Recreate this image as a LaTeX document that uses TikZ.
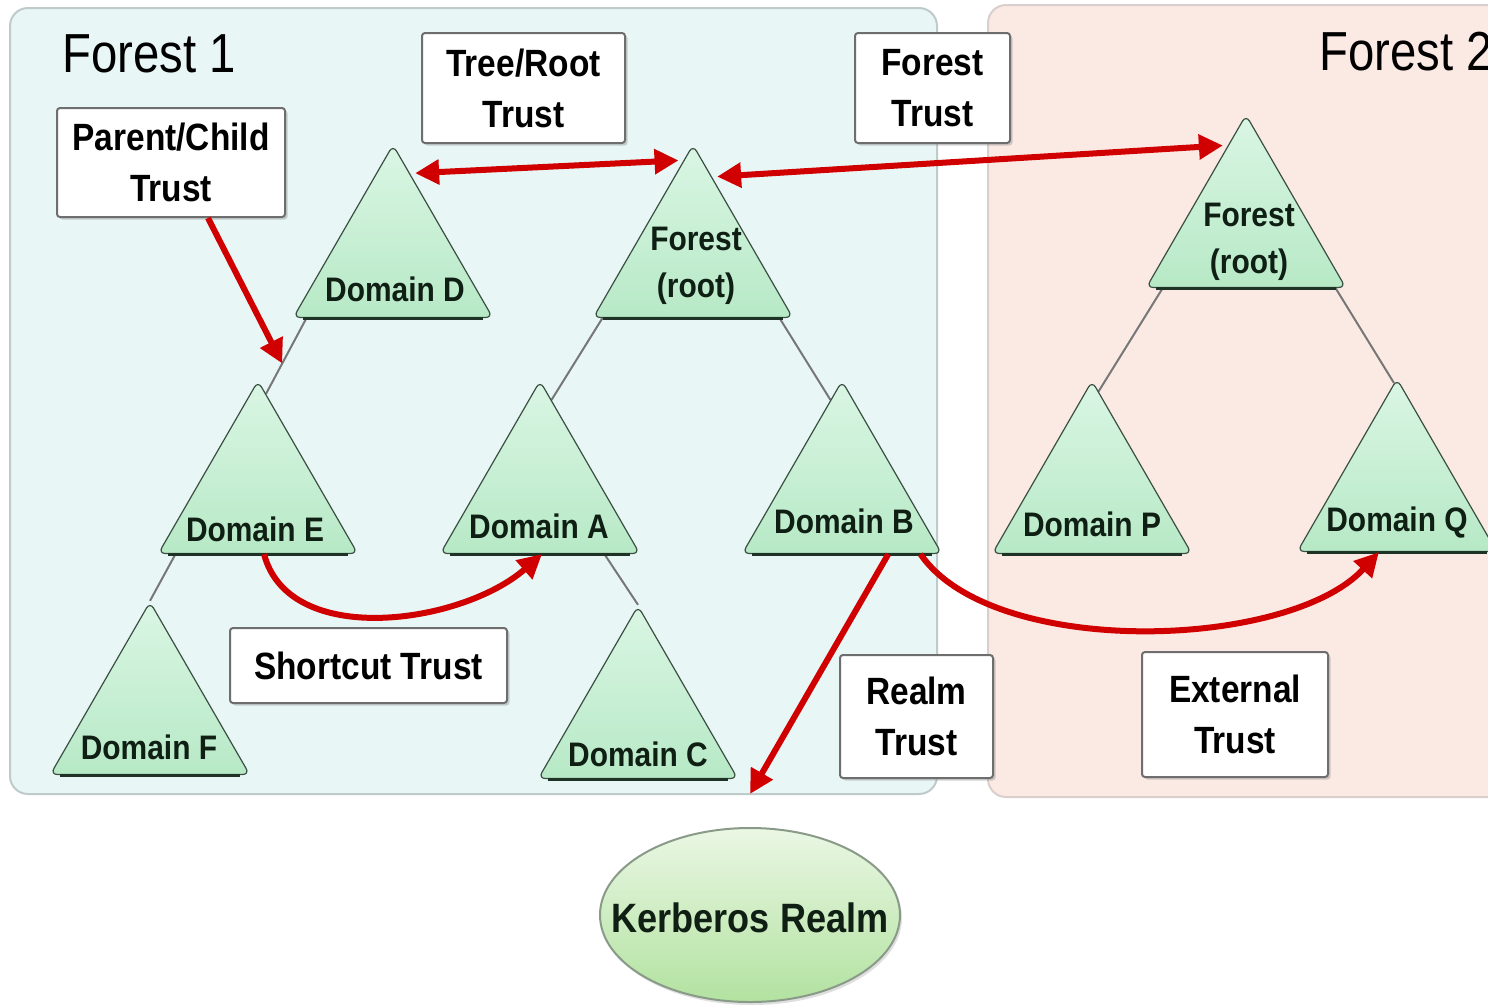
\documentclass[tikz,border=0pt]{standalone}
\usepackage{fontspec}
\setmainfont{Liberation Sans}[FakeStretch=0.88]
\newfontfamily\headfont{Liberation Sans}[FakeStretch=0.86]
\usetikzlibrary{shapes.geometric,arrows.meta,calc,shadows}
\pgfdeclarelayer{panel}
\pgfdeclarelayer{link}
\pgfsetlayers{panel,link,main}

\definecolor{paneBlue}{HTML}{E8F6F6}
\definecolor{paneBlueEdge}{HTML}{BFCBCB}
\definecolor{panePink}{HTML}{FBE9E4}
\definecolor{panePinkEdge}{HTML}{D9CFCC}
\definecolor{triTop}{HTML}{DAF6E4}
\definecolor{triBot}{HTML}{B7E9C6}
\definecolor{triEdge}{HTML}{3A4F42}
\definecolor{triBase}{HTML}{1E3326}
\definecolor{triText}{HTML}{0F1F14}
\definecolor{linkGray}{HTML}{777777}
\definecolor{trustRed}{HTML}{D10000}
\definecolor{boxEdge}{HTML}{6E6E6E}
\definecolor{realmTop}{HTML}{EAF7E4}
\definecolor{realmBot}{HTML}{B2E2A0}
\definecolor{realmEdge}{HTML}{8A9A88}

\newcommand\boxfont{\fontsize{38}{51}\selectfont\bfseries}
\newcommand\domfont{\fontsize{34}{47}\selectfont\bfseries}

\begin{document}
\begin{tikzpicture}[x=1pt,y=-1pt,
  domtri/.style={regular polygon, regular polygon sides=3, minimum size=230pt,
    inner sep=0pt, rounded corners=7pt, draw=triEdge, line width=1.2pt,
    top color=triTop, bottom color=triBot},
  domlabel/.style={font=\domfont, text=triText, inner sep=0pt, align=center},
  trustbox/.style={draw=boxEdge, line width=2pt, fill=white, rounded corners=3pt,
    align=center, font=\boxfont, inner sep=0pt,
    drop shadow={shadow xshift=2.5pt, shadow yshift=-2.5pt, opacity=0.35}},
  treelink/.style={draw=linkGray, line width=2pt},
  trust/.style={draw=trustRed, line width=6pt, -{Triangle[length=24pt,width=24pt]}},
  trustboth/.style={draw=trustRed, line width=6pt, shorten <=5pt, shorten >=5pt,
    {Triangle[length=24pt,width=24pt]}-{Triangle[length=24pt,width=24pt]}},
  title/.style={font=\headfont\fontsize{55}{60}\selectfont, inner sep=0pt, anchor=base west},
]
\useasboundingbox (0,0) rectangle (1488,1005);

% the two forest panels
\begin{pgfonlayer}{panel}
  \fill[white] (0,0) rectangle (1488,1005);
  \draw[fill=paneBlue, draw=paneBlueEdge, line width=2pt, rounded corners=18pt]
    (10,8) rectangle (937,794);
  \draw[fill=panePink, draw=panePinkEdge, line width=2pt, rounded corners=18pt]
    (988,5) rectangle (1540,797);
\end{pgfonlayer}

\node[title] (forest1) at (62,72) {Forest 1};
\node[title] (forest2) at (1319,70) {Forest 2};

% domain trees
\node[domtri] (D)  at (393,260)  {};
\node[domtri] (R1) at (693,260)  {};
\node[domtri] (E)  at (258,496)  {};
\node[domtri] (A)  at (540,496)  {};
\node[domtri] (B)  at (842,496)  {};
\node[domtri] (F)  at (150,717)  {};
\node[domtri] (C)  at (638,721)  {};
\node[domtri] (R2) at (1246,230) {};
\node[domtri] (P)  at (1092,496) {};
\node[domtri] (Q)  at (1397,494) {};

\foreach \t in {D,R1,E,A,B,F,C,R2,P,Q}
  \draw[triBase, line width=3pt] ($(\t.corner 2)+(11,0)$) -- ($(\t.corner 3)+(-11,0)$);

\node[domlabel] at ([xshift=2pt,yshift=-29pt]D.center)  {Domain D};
\node[domlabel] at ([xshift=3pt,yshift=-6pt]R1.center)  {Forest\\(root)};
\node[domlabel] at ([xshift=-3pt,yshift=-33pt]E.center) {Domain E};
\node[domlabel] at ([xshift=-1pt,yshift=-30pt]A.center) {Domain A};
\node[domlabel] at ([xshift=2pt,yshift=-25pt]B.center)  {Domain B};
\node[domlabel] at ([xshift=-1pt,yshift=-30pt]F.center) {Domain F};
\node[domlabel] at ([yshift=-33pt]C.center)             {Domain C};
\node[domlabel] at ([xshift=3pt,yshift=-12pt]R2.center) {Forest\\(root)};
\node[domlabel] at ([yshift=-28pt]P.center)             {Domain P};
\node[domlabel] at ([yshift=-29pt]Q.center)             {Domain Q};

% parent-child links, kept behind the triangles
\begin{pgfonlayer}{link}
  \draw[treelink] ($(D.corner 2)!0.07!(D.corner 3)$) coordinate (deA)
               -- ($(E.corner 1)!0.08!(E.corner 3)$) coordinate (deB);
  \draw[treelink] ($(R1.corner 2)!0.05!(R1.corner 3)$) -- ($(A.corner 1)!0.115!(A.corner 3)$);
  \draw[treelink] ($(R1.corner 2)!0.93!(R1.corner 3)$) -- ($(B.corner 1)!0.115!(B.corner 2)$);
  \draw[treelink] ($(E.corner 2)!0.09!(E.corner 3)$) -- (F.corner 1);
  \draw[treelink] ($(A.corner 2)!0.82!(A.corner 3)$) -- (C.corner 1);
  \draw[treelink] ($(R2.corner 2)!0.086!(R2.corner 3)$) -- ($(P.corner 1)!0.066!(P.corner 3)$);
  \draw[treelink] ($(R2.corner 2)!0.945!(R2.corner 3)$) -- ($(Q.corner 1)!0.03!(Q.corner 2)$);
\end{pgfonlayer}

% trust labels
\node[trustbox, minimum width=228pt, minimum height=109pt] (pc) at (171,162.5)  {Parent/Child\\Trust};
\node[trustbox, minimum width=203pt, minimum height=110pt] (tr) at (523.5,88)   {Tree/Root\\Trust};
\node[trustbox, minimum width=155pt, minimum height=110pt] (ft) at (932.5,88)   {Forest\\Trust};
\node[trustbox, minimum width=277pt, minimum height=75pt]  (sc) at (368.5,665.5) {Shortcut Trust};
\node[trustbox, minimum width=153pt, minimum height=123pt] (rt) at (916.5,716.5) {Realm\\Trust};
\node[trustbox, minimum width=186pt, minimum height=125pt] (et) at (1235,714.5)  {External\\Trust};

% Kerberos realm
\node[ellipse, minimum width=300pt, minimum height=174pt, draw=realmEdge, line width=2pt,
      top color=realmTop, bottom color=realmBot, inner sep=0pt,
      drop shadow={shadow xshift=2pt, shadow yshift=-3pt, opacity=0.25},
      label={[font=\fontsize{41}{45}\selectfont\bfseries, text=triText, inner sep=0pt, yshift=-3pt]center:Kerberos Realm}]
      (K) at (750,915) {};

% trust arrows
\draw[trust] ([xshift=37pt]pc.south) -- ($(deA)!0.6!(deB)$);
\draw[trustboth] ($(D.corner 1)!0.17!(D.corner 3)$) -- ($(R1.corner 1)!0.094!(R1.corner 2)$);
\draw[trustboth] ($(R1.corner 1)!0.19!(R1.corner 3)$) -- ($(R2.corner 1)!0.18!(R2.corner 2)$);
\draw[trust] ($(E.corner 2)!0.53!(E.corner 3)$) .. controls +(25,95) and +(-80,70)
             .. ($(A.corner 2)!0.51!(A.corner 3)$);
\draw[trust] ($(B.corner 2)!0.73!(B.corner 3)$) -- ([yshift=33pt]K.north);
\draw[trust] ($(B.corner 2)!0.89!(B.corner 3)$) .. controls +(72,105) and +(-90,98)
             .. ($(Q.corner 2)!0.41!(Q.corner 3)$);
\end{tikzpicture}
\end{document}
